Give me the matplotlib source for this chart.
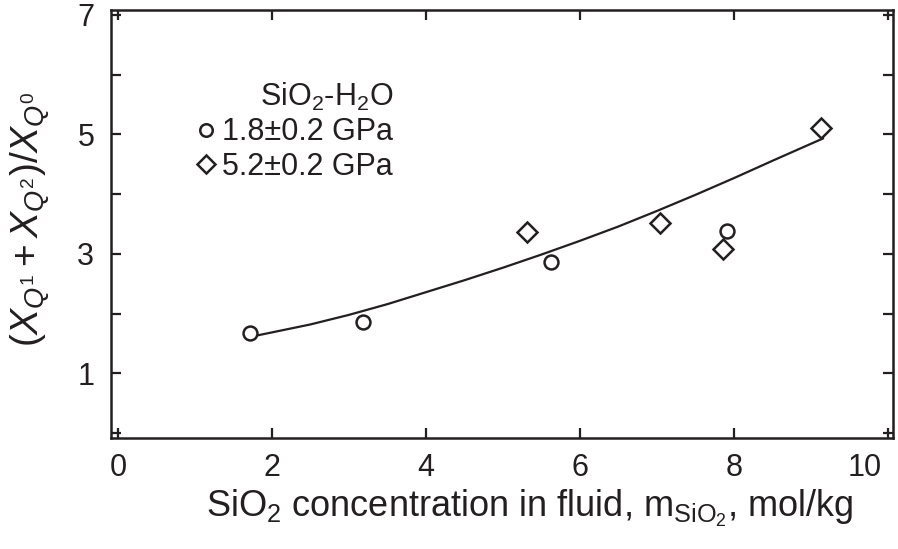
import matplotlib
matplotlib.use("Agg")
import matplotlib.pyplot as plt
from matplotlib.ticker import MultipleLocator

# data
circ_x = [1.72, 3.18, 5.62, 7.90]
circ_y = [1.68, 1.86, 2.87, 3.39]
diam_x = [5.31, 7.04, 7.86, 9.12]
diam_y = [3.37, 3.52, 3.08, 5.11]

# fitted trend line
fit_x = [1.75, 2.5, 3.0, 3.5, 4.0, 4.5, 5.0, 5.5, 6.0, 6.5, 7.0, 7.5, 8.0, 8.5, 9.15]
fit_y = [1.62, 1.82, 1.98, 2.16, 2.36, 2.56, 2.77, 2.99, 3.22, 3.46, 3.72, 3.99, 4.27, 4.56, 4.93]

x_ticks = [0, 2, 4, 6, 8, 10]
y_ticks = [1, 3, 5, 7]

ink = "#231f20"
plt.rcParams["font.family"] = ["Liberation Sans", "DejaVu Sans"]
plt.rcParams["mathtext.fontset"] = "custom"
plt.rcParams["mathtext.rm"] = "Liberation Sans"
plt.rcParams["mathtext.it"] = "Liberation Sans:italic"
plt.rcParams["mathtext.bf"] = "Liberation Sans:bold"

fig = plt.figure(figsize=(8.98, 5.49), dpi=100)
ax = fig.add_axes([0.1236, 0.2022, 0.8708, 0.7796])

ax.plot(fit_x, fit_y, color=ink, lw=1.6, zorder=2)
ax.plot(circ_x, circ_y, "o", ms=10, mfc="white", mec=ink, mew=1.8,
        ls="none", label="1.8±0.2 GPa", zorder=3)
ax.plot(diam_x, diam_y, "D", ms=10, mfc="white", mec=ink, mew=1.8,
        ls="none", label="5.2±0.2 GPa", zorder=3)

ax.set_xlim(-0.09, 10.06)
ax.set_ylim(-0.08, 7.08)
# last x label is drawn separately, left of its tick like the original
ax.set_xticks(x_ticks, labels=[str(v) for v in x_ticks[:-1]] + [""])
ax.annotate(str(x_ticks[-1]), xy=(x_ticks[-1], 0), xycoords=("data", "axes fraction"),
            xytext=(-5, -11), textcoords="offset points", ha="right", va="top",
            fontsize=22, color=ink)
ax.set_yticks(y_ticks)
ax.yaxis.set_minor_locator(MultipleLocator(1))
ax.tick_params(which="both", direction="in", top=True, right=True,
               length=7, width=1.6, color=ink, labelsize=22, labelcolor=ink)
ax.tick_params(axis="x", pad=11)
ax.tick_params(axis="y", pad=12)
for s in ax.spines.values():
    s.set_linewidth(1.8)
    s.set_color(ink)

leg = ax.legend(loc="upper left", bbox_to_anchor=(0.082, 0.885),
                title="SiO$_2$-H$_2$O", frameon=False, fontsize=22,
                title_fontsize=22, handlelength=0.6, handletextpad=0.25,
                labelspacing=0.15, markerscale=0.9, alignment="right",
                borderpad=0.2)
for t in leg.get_texts():
    t.set_color(ink)
leg.get_title().set_color(ink)

fig.text(0.590, 0.058, r"SiO$_2$ concentration in fluid, m$_{\mathrm{SiO_2}}$, mol/kg",
         ha="center", va="baseline", fontsize=26, color=ink)
fig.text(0.034, 0.60, r"$(X_{Q^1}+X_{Q^2})/X_{Q^0}$",
         rotation=90, ha="center", va="center", fontsize=28, color=ink)

fig.savefig("out.png", dpi=100)
